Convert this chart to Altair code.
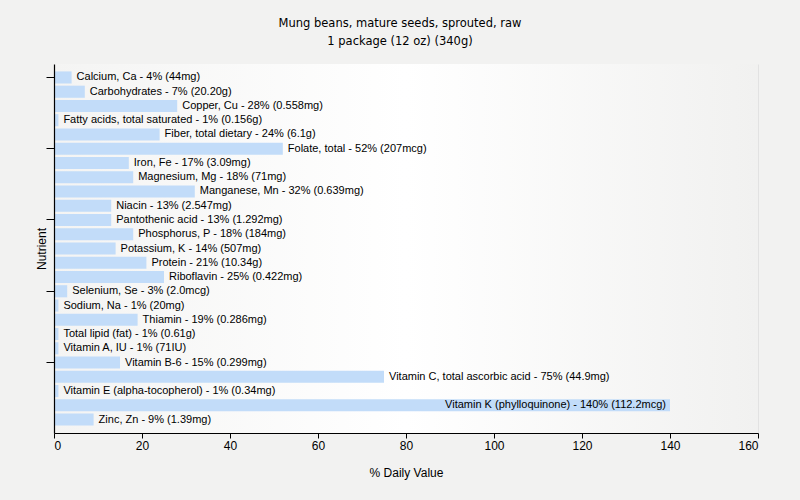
import altair as alt
import pandas as pd

nutrients = [
    "Calcium, Ca", "Carbohydrates", "Copper, Cu", "Fatty acids, total saturated",
    "Fiber, total dietary", "Folate, total", "Iron, Fe", "Magnesium, Mg",
    "Manganese, Mn", "Niacin", "Pantothenic acid", "Phosphorus, P",
    "Potassium, K", "Protein", "Riboflavin", "Selenium, Se", "Sodium, Na",
    "Thiamin", "Total lipid (fat)", "Vitamin A, IU", "Vitamin B-6",
    "Vitamin C, total ascorbic acid", "Vitamin E (alpha-tocopherol)",
    "Vitamin K (phylloquinone)", "Zinc, Zn",
]
percents = [4, 7, 28, 1, 24, 52, 17, 18, 32, 13, 13, 18, 14, 21, 25, 3, 1, 19, 1, 1, 15, 75, 1, 140, 9]
amounts = [
    "44mg", "20.20g", "0.558mg", "0.156g", "6.1g", "207mcg", "3.09mg", "71mg",
    "0.639mg", "2.547mg", "1.292mg", "184mg", "507mg", "10.34g", "0.422mg",
    "2.0mcg", "20mg", "0.286mg", "0.61g", "71IU", "0.299mg", "44.9mg",
    "0.34mg", "112.2mcg", "1.39mg",
]

df = pd.DataFrame({"nutrient": nutrients, "pct": percents, "amount": amounts})
df["label"] = df["nutrient"] + " - " + df["pct"].astype(str) + "% (" + df["amount"] + ")"
df["inside"] = df["pct"] > 120

W, H = 704, 369
tick_vals = nutrients[::5]

y_enc = alt.Y(
    "nutrient:N",
    sort=nutrients,
    title="Nutrient",
    scale=alt.Scale(paddingInner=0.15, paddingOuter=0.52),
    axis=alt.Axis(
        labels=False, values=tick_vals, tickSize=8, tickColor="#000",
        domainColor="#000", domainWidth=1.2, titleFont="Liberation Sans", titleFontSize=12,
        titleFontWeight="normal", titleColor="#000", titlePadding=-3, zindex=2,
    ),
)
x_enc = alt.X(
    "pct:Q",
    title="% Daily Value",
    scale=alt.Scale(domain=[0, 160], nice=False),
    axis=alt.Axis(
        values=list(range(0, 161, 20)), grid=True, gridColor="#e2e2e2",
        tickSize=5, tickColor="#000", domainColor="#000",
        labelFont="Liberation Sans", labelFontSize=12, labelColor="#000",
        labelPadding=2, titleFont="Liberation Sans", titleFontSize=12,
        titleFontWeight="normal", titleColor="#000", titlePadding=16,
    ),
)

base = alt.Chart(df)

bg = alt.Chart(pd.DataFrame({"a": [0]})).mark_rect(
    color=alt.Gradient(
        gradient="linear", x1=0, x2=1, y1=0, y2=0,
        stops=[
            alt.GradientStop(color="#f4f4f3", offset=0),
            alt.GradientStop(color="#ffffff", offset=0.5),
            alt.GradientStop(color="#f1f1f0", offset=1),
        ],
    )
).encode(x=alt.value(0), x2=alt.value(W), y=alt.value(0), y2=alt.value(H))

bars = base.mark_bar(color="#c2dcf9").encode(y=y_enc, x=x_enc)

labels_out = base.transform_filter("!datum.inside").mark_text(
    align="left", dx=5, font="Liberation Sans", fontSize=11, color="#000"
).encode(y=alt.Y("nutrient:N", sort=nutrients), x="pct:Q", text="label:N")

labels_in = base.transform_filter("datum.inside").mark_text(
    align="right", dx=-4, font="Liberation Sans", fontSize=11, color="#000"
).encode(y=alt.Y("nutrient:N", sort=nutrients), x="pct:Q", text="label:N")

chart = alt.layer(bg, bars, labels_out, labels_in).properties(
    width=W, height=H,
    title=alt.TitleParams(
        text=["Mung beans, mature seeds, sprouted, raw", "1 package (12 oz) (340g)"],
        anchor="middle", dx=-6, font="DejaVu Sans", fontSize=11.5,
        fontWeight="normal", color="#000", offset=17, lineHeight=18,
    ),
    autosize=alt.AutoSizeParams(type="none"),
    padding={"left": 54, "top": 64, "right": 42, "bottom": 67},
    background="#f2f2f1",
).configure_view(stroke=None).configure_axis(domainWidth=1)

chart.save("out.html", embed_options={"renderer": "svg", "actions": False})
